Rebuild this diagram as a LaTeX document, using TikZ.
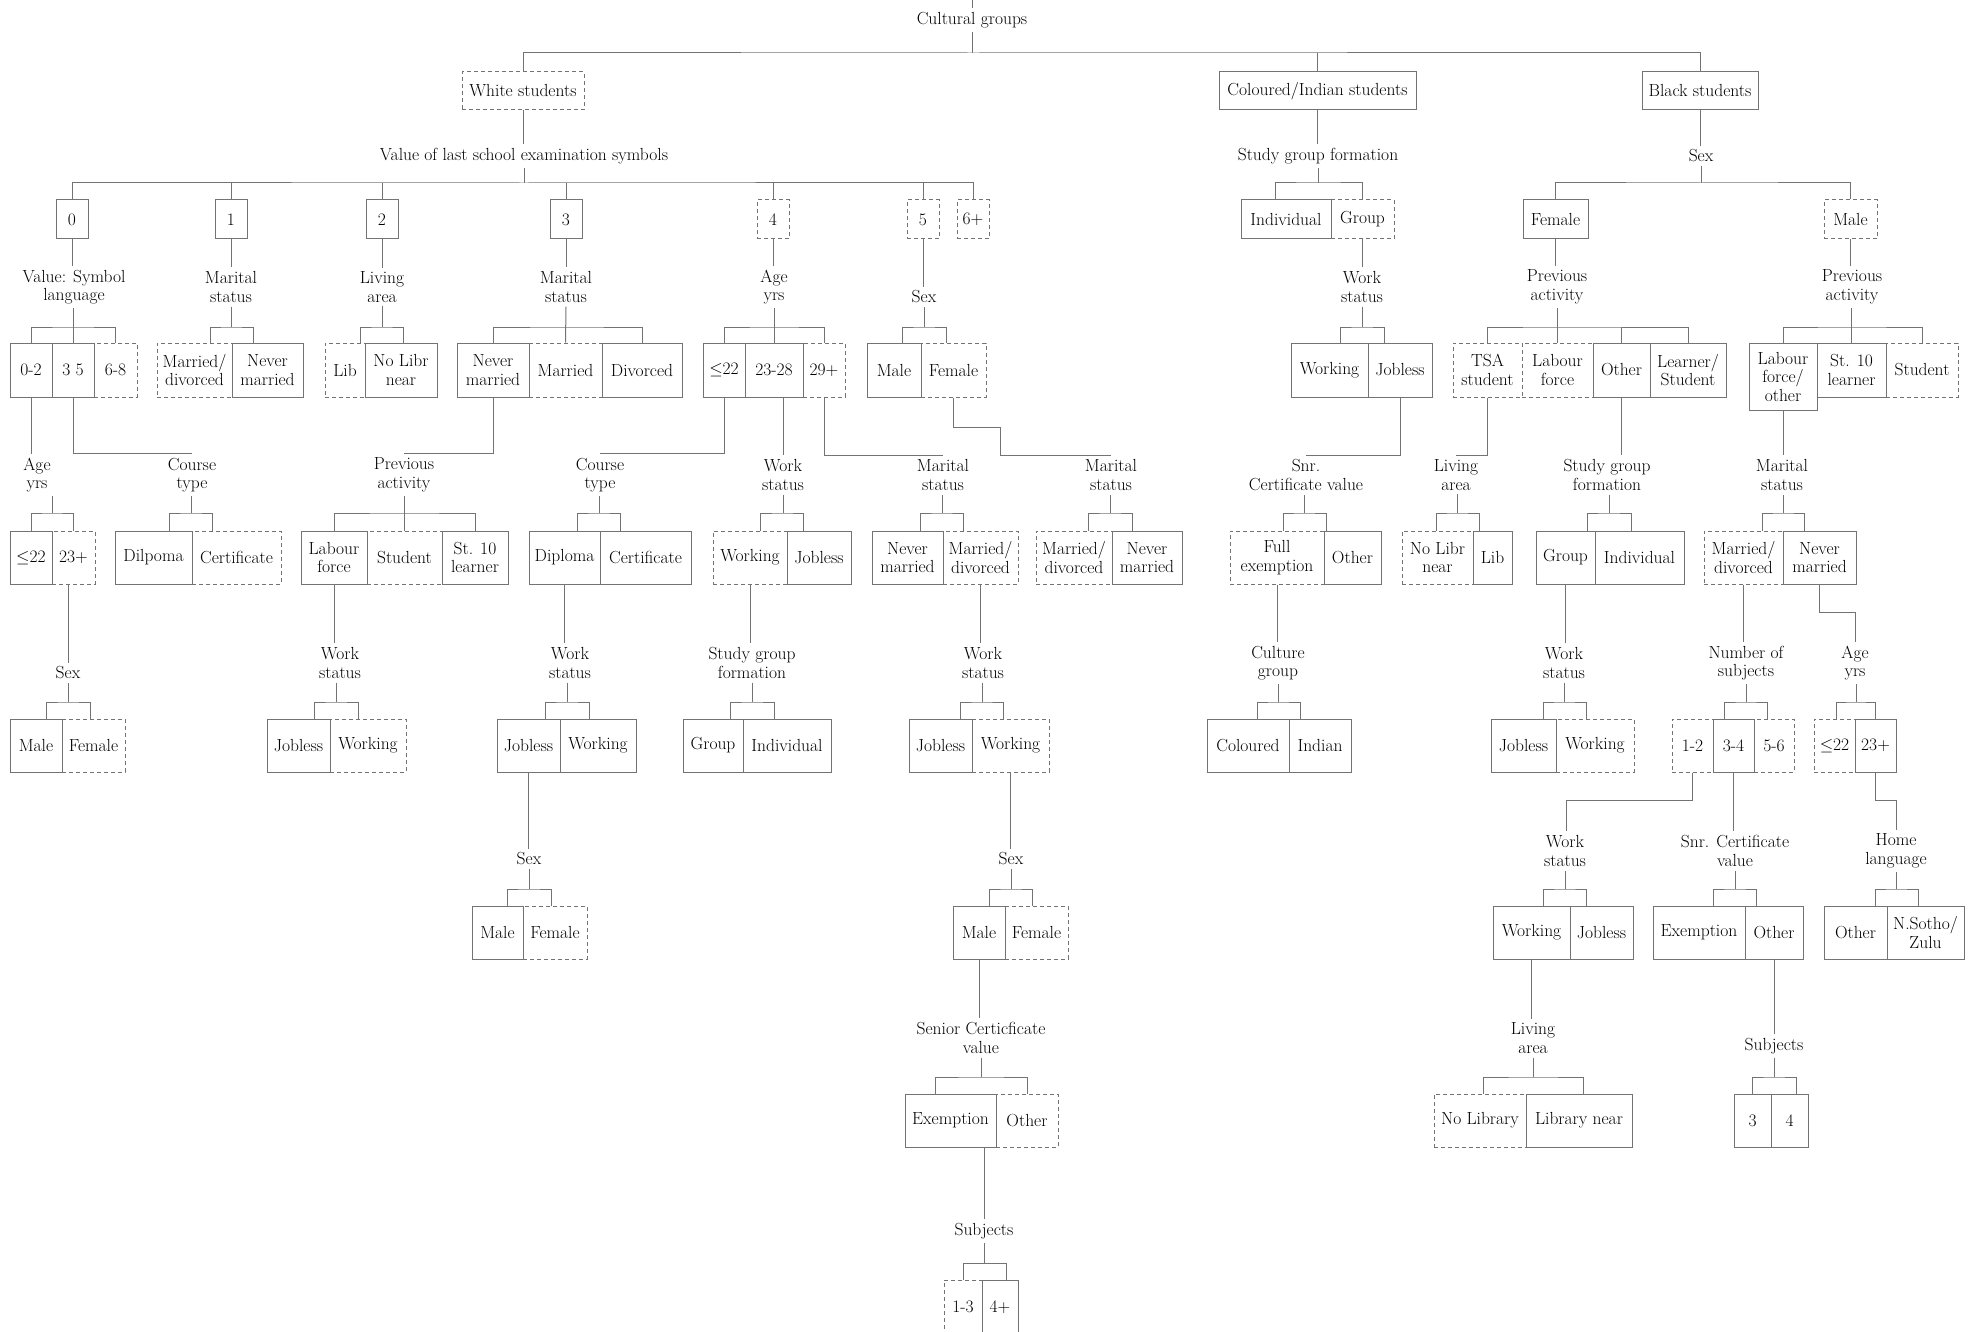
\documentclass[tikz,border=0pt]{standalone}
\usetikzlibrary{calc}

\begin{document}
\begin{tikzpicture}[x=1pt,y=-1pt,font=\fontsize{17.5}{18.5}\selectfont,
  conn/.style={draw=black!55,line width=1pt},
  cell/.style={draw=black!55,line width=1pt,inner sep=2pt,align=center,minimum height=53},
  dcell/.style={cell,dash pattern=on 4pt off 3pt},
  lbl/.style={inner sep=4pt,align=center}]
  \useasboundingbox (0,0) rectangle (1970,1332);
  % --- top: cultural groups ---
  \coordinate (top) at (972,0);
  \node[lbl] (cult) at (972,20) {Cultural groups};
  \node[dcell,minimum width=122,minimum height=38] (white) at (523,91) {White students};
  \node[cell,minimum width=197,minimum height=38] (colind) at (1317.5,91) {Coloured/Indian students};
  \node[cell,minimum width=116,minimum height=38] (black) at (1700,91) {Black students};
  \coordinate (jtop) at (972,53);
  \draw[conn] (top) -- (cult.north);
  \draw[conn] (cult.south) -- (jtop);
  \draw[conn] (white.north) |- (jtop) -| (black.north);
  \draw[conn] (colind.north) -- (colind.north |- jtop);
  \node[lbl] (symb) at (524,156) {Value of last school examination symbols};
  \node[lbl] (sgform) at (1318,156) {Study group formation};
  \node[lbl] (sexbl) at (1701,156) {Sex};
  \draw[conn] (white.south) -- (white.south |- symb.north);
  \draw[conn] (colind.south) -- (colind.south |- sgform.north);
  \draw[conn] (black.south) -- (black.south |- sexbl.north);

  % --- level 1: symbols, study group, sex ---
  \foreach \n/\x/\t in {s0/72/0,s1/231/1,s2/382/2,s3/566/3}
    \node[cell,minimum width=32,minimum height=39] (\n) at (\x,219.5) {\t};
  \foreach \n/\x/\t in {s4/773/4,s5/923/5,s6/973/6+}
    \node[dcell,minimum width=32,minimum height=39] (\n) at (\x,219.5) {\t};
  \coordinate (jsym) at (524,183);
  \draw[conn] (symb.south) -- (jsym);
  \draw[conn] (s0.north) |- (jsym) -| (s6.north);
  \foreach \n in {s1,s2,s3,s4,s5} \draw[conn] (\n.north) -- (\n.north |- jsym);
  \node[cell,minimum width=90,minimum height=39] (indiv) at (1286,219.5) {Individual};
  \node[dcell,minimum width=63,minimum height=39] (group) at (1362.5,219.5) {Group};
  \coordinate (jsg) at (1318,183);
  \draw[conn] (sgform.south) -- (jsg);
  \draw[conn] ([xshift=-11]indiv.north) |- (jsg) -| (group.north);
  \node[cell,minimum width=65,minimum height=39] (fem) at (1555.5,219.5) {Female};
  \node[dcell,minimum width=53,minimum height=39] (mal) at (1850.5,219.5) {Male};
  \coordinate (jsx) at (1701,183);
  \draw[conn] (sexbl.south) -- (jsx);
  \draw[conn] (fem.north) |- (jsx) -| (mal.north);

  % --- level 2 labels ---
  \node[lbl] (v0) at (74,287) {Value: Symbol\\language};
  \node[lbl] (v1) at (231,287) {Marital\\status};
  \node[lbl] (v2) at (382,287) {Living\\area};
  \node[lbl] (v3) at (566,287) {Marital\\status};
  \node[lbl] (v4) at (774,287) {Age\\yrs};
  \node[lbl] (v5) at (924,297) {Sex};
  \node[lbl] (vwork) at (1362,287) {Work\\status};
  \node[lbl] (vpaf) at (1557,287) {Previous\\activity};
  \node[lbl] (vpam) at (1852,287) {Previous\\activity};
  \foreach \a/\b in {s0/v0,s1/v1,s2/v2,s3/v3,s4/v4,s5/v5,group/vwork,fem/vpaf,mal/vpam}
    \draw[conn] (\a.south) -- (\a.south |- \b.north);

  % --- level 2 cells ---
  \node[cell,minimum width=42,minimum height=54] (g0a) at (31,370) {0-2};
  \node[cell,minimum width=42,minimum height=54] (g0b) at (73,370) {3~5};
  \node[dcell,minimum width=43,minimum height=54] (g0c) at (115.5,370) {6-8};
  \coordinate (j0) at (73,327);
  \draw[conn] (v0.south -| j0) -- (g0b.north);
  \draw[conn] (g0a.north) |- (j0) -| (g0c.north);
  \node[dcell,minimum width=75,minimum height=54] (g1a) at (194.5,370) {Married/\\divorced};
  \node[cell,minimum width=71,minimum height=54] (g1b) at (267.5,370) {Never\\married};
  \coordinate (j1) at (231,327);
  \draw[conn] (v1.south) -- (j1);
  \draw[conn] ([xshift=15.5]g1a.north) |- (j1) -| ([xshift=-14.5]g1b.north);
  \node[dcell,minimum width=40,minimum height=54] (g2a) at (345,370) {Lib};
  \node[cell,minimum width=72,minimum height=54] (g2b) at (401,370) {No Libr\\near};
  \coordinate (j2) at (382,327);
  \draw[conn] (v2.south) -- (j2);
  \draw[conn] ([xshift=15]g2a.north) |- (j2) -| ([xshift=2]g2b.north);
  \node[cell,minimum width=72,minimum height=54] (g3a) at (493,370) {Never\\married};
  \node[dcell,minimum width=73,minimum height=54] (g3b) at (565.5,370) {Married};
  \node[cell,minimum width=80,minimum height=54] (g3c) at (642,370) {Divorced};
  \coordinate (j3) at (566,327);
  \draw[conn] (v3.south) -- (g3b.north);
  \draw[conn] (g3a.north) |- (j3) -| (g3c.north);
  \node[cell,minimum width=42,minimum height=54] (g4a) at (724,370) {$\leq$22};
  \node[cell,minimum width=58,minimum height=54] (g4b) at (774,370) {23-28};
  \node[dcell,minimum width=42,minimum height=54] (g4c) at (824,370) {29+};
  \coordinate (j4) at (774,327);
  \draw[conn] (v4.south) -- (g4b.north);
  \draw[conn] (g4a.north) |- (j4) -| (g4c.north);
  \node[cell,minimum width=54,minimum height=54] (g5a) at (894,370) {Male};
  \node[dcell,minimum width=65,minimum height=54] (g5b) at (953.5,370) {Female};
  \coordinate (j5) at (924,327);
  \draw[conn] (v5.south) -- (j5);
  \draw[conn] ([xshift=8]g5a.north) |- (j5) -| ([xshift=-7.5]g5b.north);
  \node[cell,minimum width=77,minimum height=54] (g6a) at (1329.5,370) {Working};
  \node[cell,minimum width=64,minimum height=54] (g6b) at (1400,370) {Jobless};
  \coordinate (j6) at (1362,327);
  \draw[conn] (vwork.south) -- (j6);
  \draw[conn] ([xshift=10.5]g6a.north) |- (j6) -| ([xshift=-16]g6b.north);
  \node[dcell,minimum width=69,minimum height=54] (g7a) at (1487.5,370) {TSA\\student};
  \node[dcell,minimum width=71,minimum height=54] (g7b) at (1557.5,370) {Labour\\force};
  \node[cell,minimum width=57,minimum height=54] (g7c) at (1621.5,370) {Other};
  \node[cell,minimum width=76,minimum height=54] (g7d) at (1688,370) {Learner/\\Student};
  \coordinate (j7) at (1557.5,327);
  \draw[conn] (vpaf.south -| j7) -- (g7b.north);
  \draw[conn] (g7a.north) |- (j7) -| (g7d.north);
  \draw[conn] (g7c.north) -- (g7c.north |- j7);
  \node[cell,minimum width=68,minimum height=67] (g8a) at (1783,376.5) {Labour\\force/\\other};
  \node[cell,minimum width=69,minimum height=54] (g8b) at (1851.5,370) {St. 10\\learner};
  \node[dcell,minimum width=72,minimum height=54] (g8c) at (1922,370) {Student};
  \coordinate (j8) at (1851.5,327);
  \draw[conn] (vpam.south -| j8) -- (g8b.north);
  \draw[conn] (g8a.north) |- (j8) -| (g8c.north);

  % --- level 3 labels ---
  \node[lbl] (w0) at (37,475) {Age\\yrs};
  \node[lbl] (w1) at (192,475) {Course\\type};
  \node[lbl] (w2) at (404,475) {Previous\\activity};
  \node[lbl] (w3) at (600,475) {Course\\type};
  \node[lbl] (w4) at (783,475) {Work\\status};
  \node[lbl] (w5) at (943,475) {Marital\\status};
  \node[lbl] (w6) at (1111,475) {Marital\\status};
  \node[lbl] (w7) at (1306,475) {Snr.\\Certificate value};
  \node[lbl] (w8) at (1456,475) {Living\\area};
  \node[lbl] (w9) at (1607,475) {Study group\\formation};
  \node[lbl] (w10) at (1782,475) {Marital\\status};
  \draw[conn] (g0a.south) -- (g0a.south |- w0.north);
  \draw[conn] (g0b.south) |- (w1.north);
  \draw[conn] (g3a.south) |- (w2.north);
  \draw[conn] (g4a.south) |- (w3.north);
  \draw[conn] (w4.north |- g4b.south) -- (w4.north);
  \draw[conn] (g4c.south) |- (w5.north);
  \coordinate (k1) at (1000,427);
  \draw[conn] (g5b.south) |- (k1) |- (w6.north);
  \draw[conn] (g6b.south) |- (w7.north);
  \draw[conn] (g7a.south) |- (w8.north);
  \draw[conn] (g7c.south) -- (g7c.south |- w9.north);
  \draw[conn] (g8a.south) -- (g8a.south |- w10.north);

  % --- level 3 cells ---
  \node[cell,minimum width=42] (h0a) at (31,557.5) {$\leq$22};
  \node[dcell,minimum width=43] (h0b) at (73.5,557.5) {23+};
  \coordinate (jh0) at (52,513);
  \draw[conn] (w0.south -| jh0) -- (jh0);
  \draw[conn] (h0a.north) |- (jh0) -| (h0b.north);
  \node[cell,minimum width=77] (h1a) at (153.5,557.5) {Dilpoma};
  \node[dcell,minimum width=89] (h1b) at (236.5,557.5) {Certificate};
  \coordinate (jh1) at (191,513);
  \draw[conn] (w1.south -| jh1) -- (jh1);
  \draw[conn] ([xshift=15.5]h1a.north) |- (jh1) -| ([xshift=-24.5]h1b.north);
  \node[cell,minimum width=66] (h2a) at (334,557.5) {Labour\\force};
  \node[dcell,minimum width=75] (h2b) at (404.5,557.5) {Student};
  \node[cell,minimum width=66] (h2c) at (475,557.5) {St. 10\\learner};
  \coordinate (jh2) at (404,513);
  \draw[conn] (w2.south) -- (jh2 |- h2b.north);
  \draw[conn] (h2a.north) |- (jh2) -| (h2c.north);
  \node[cell,minimum width=71] (h3a) at (564.5,557.5) {Diploma};
  \node[cell,minimum width=91] (h3b) at (645.5,557.5) {Certificate};
  \coordinate (jh3) at (599,513);
  \draw[conn] (w3.south -| jh3) -- (jh3);
  \draw[conn] ([xshift=12.5]h3a.north) |- (jh3) -| ([xshift=-25.5]h3b.north);
  \node[dcell,minimum width=74] (h4a) at (750,557.5) {Working};
  \node[cell,minimum width=64] (h4b) at (819,557.5) {Jobless};
  \coordinate (jh4) at (783,513);
  \draw[conn] (w4.south) -- (jh4);
  \draw[conn] ([xshift=10]h4a.north) |- (jh4) -| ([xshift=-16]h4b.north);
  \node[cell,minimum width=71] (h5a) at (907.5,557.5) {Never\\married};
  \node[dcell,minimum width=75] (h5b) at (980.5,557.5) {Married/\\divorced};
  \coordinate (jh5) at (942,513);
  \draw[conn] (w5.south -| jh5) -- (jh5);
  \draw[conn] ([xshift=12.5]h5a.north) |- (jh5) -| ([xshift=-17.5]h5b.north);
  \node[dcell,minimum width=76] (h6a) at (1074,557.5) {Married/\\divorced};
  \node[cell,minimum width=70] (h6b) at (1147,557.5) {Never\\married};
  \coordinate (jh6) at (1110,513);
  \draw[conn] (w6.south -| jh6) -- (jh6);
  \draw[conn] ([xshift=14]h6a.north) |- (jh6) -| ([xshift=-15]h6b.north);
  \node[dcell,minimum width=94] (h7a) at (1277,557.5) {Full\\exemption};
  \node[cell,minimum width=57] (h7b) at (1352.5,557.5) {Other};
  \coordinate (jh7) at (1304,513);
  \draw[conn] (w7.south -| jh7) -- (jh7);
  \draw[conn] ([xshift=6]h7a.north) |- (jh7) -| ([xshift=-26.5]h7b.north);
  \node[dcell,minimum width=71] (h8a) at (1437.5,557.5) {No Libr\\near};
  \node[cell,minimum width=39] (h8b) at (1492.5,557.5) {Lib};
  \coordinate (jh8) at (1457,513);
  \draw[conn] (w8.south -| jh8) -- (jh8);
  \draw[conn] ([xshift=-1.5]h8a.north) |- (jh8) -| ([xshift=-13.5]h8b.north);
  \node[cell,minimum width=59] (h9a) at (1565.5,557.5) {Group};
  \node[cell,minimum width=89] (h9b) at (1639.5,557.5) {Individual};
  \coordinate (jh9) at (1609,513);
  \draw[conn] (w9.south -| jh9) -- (jh9);
  \draw[conn] ([xshift=21.5]h9a.north) |- (jh9) -| ([xshift=-8.5]h9b.north);
  \node[dcell,minimum width=79] (h10a) at (1743.5,557.5) {Married/\\divorced};
  \node[cell,minimum width=73] (h10b) at (1819.5,557.5) {Never\\married};
  \coordinate (jh10) at (1783,513);
  \draw[conn] (w10.south -| jh10) -- (jh10);
  \draw[conn] ([xshift=18.5]h10a.north) |- (jh10) -| ([xshift=-15.5]h10b.north);

  % --- level 4 labels ---
  \node[lbl] (x0) at (68,673) {Sex};
  \node[lbl] (x1) at (340,663) {Work\\status};
  \node[lbl] (x2) at (570,663) {Work\\status};
  \node[lbl] (x3) at (752,663) {Study group\\formation};
  \node[lbl] (x4) at (983,663) {Work\\status};
  \node[lbl] (x5) at (1278,663) {Culture\\group};
  \node[lbl] (x6) at (1564,663) {Work\\status};
  \node[lbl] (x7) at (1746,663) {Number of\\subjects};
  \node[lbl] (x8) at (1855,663) {Age\\yrs};
  \draw[conn] (x0.north |- h0b.south) -- (x0.north);
  \draw[conn] (h2a.south) -- (h2a.south |- x1.north);
  \draw[conn] (h3a.south) -- (h3a.south |- x2.north);
  \draw[conn] (h4a.south) -- (h4a.south |- x3.north);
  \draw[conn] (h5b.south) -- (h5b.south |- x4.north);
  \draw[conn] (h7a.south) -- (h7a.south |- x5.north);
  \draw[conn] (h9a.south) -- (h9a.south |- x6.north);
  \draw[conn] (h10a.south) -- (h10a.south |- x7.north);
  \coordinate (k2) at (1855,612);
  \draw[conn] (h10b.south) |- (k2) -- (k2 |- x8.north);

  % --- level 4 cells ---
  \node[cell,minimum width=52] (i0a) at (36,745.5) {Male};
  \node[dcell,minimum width=63] (i0b) at (93.5,745.5) {Female};
  \coordinate (ji0) at (68,702);
  \draw[conn] (x0.south) -- (ji0);
  \draw[conn] ([xshift=10]i0a.north) |- (ji0) -| ([xshift=-3.5]i0b.north);
  \node[cell,minimum width=63] (i1a) at (298.5,745.5) {Jobless};
  \node[dcell,minimum width=76] (i1b) at (368,745.5) {Working};
  \coordinate (ji1) at (336,702);
  \draw[conn] (x1.south -| ji1) -- (ji1);
  \draw[conn] ([xshift=15.5]i1a.north) |- (ji1) -| ([xshift=-10]i1b.north);
  \node[cell,minimum width=63] (i2a) at (528.5,745.5) {Jobless};
  \node[cell,minimum width=76] (i2b) at (598,745.5) {Working};
  \coordinate (ji2) at (567,702);
  \draw[conn] (x2.south -| ji2) -- (ji2);
  \draw[conn] ([xshift=16.5]i2a.north) |- (ji2) -| ([xshift=-9]i2b.north);
  \node[cell,minimum width=60] (i3a) at (713,745.5) {Group};
  \node[cell,minimum width=88] (i3b) at (787,745.5) {Individual};
  \coordinate (ji3) at (752,702);
  \draw[conn] (x3.south) -- (ji3);
  \draw[conn] ([xshift=17]i3a.north) |- (ji3) -| ([xshift=-13]i3b.north);
  \node[cell,minimum width=63] (i4a) at (940.5,745.5) {Jobless};
  \node[dcell,minimum width=77] (i4b) at (1010.5,745.5) {Working};
  \coordinate (ji4) at (982,702);
  \draw[conn] (x4.south -| ji4) -- (ji4);
  \draw[conn] ([xshift=19.5]i4a.north) |- (ji4) -| ([xshift=-7.5]i4b.north);
  \node[cell,minimum width=82] (i5a) at (1248,745.5) {Coloured};
  \node[cell,minimum width=62] (i5b) at (1320,745.5) {Indian};
  \coordinate (ji5) at (1278,702);
  \draw[conn] (x5.south) -- (ji5);
  \draw[conn] ([xshift=9]i5a.north) |- (ji5) -| ([xshift=-20]i5b.north);
  \node[cell,minimum width=65] (i6a) at (1523.5,745.5) {Jobless};
  \node[dcell,minimum width=78] (i6b) at (1595,745.5) {Working};
  \coordinate (ji6) at (1564,702);
  \draw[conn] (x6.south) -- (ji6);
  \draw[conn] ([xshift=19.5]i6a.north) |- (ji6) -| ([xshift=-9]i6b.north);
  \node[dcell,minimum width=41] (i7a) at (1692.5,745.5) {1-2};
  \node[cell,minimum width=41] (i7b) at (1733.5,745.5) {3-4};
  \node[dcell,minimum width=40] (i7c) at (1774,745.5) {5-6};
  \coordinate (ji7) at (1746,702);
  \draw[conn] (x7.south) -- (ji7);
  \draw[conn] ([xshift=-9.5]i7b.north) |- (ji7) -| ([xshift=-7]i7c.north);
  \node[dcell,minimum width=41] (i8a) at (1834.5,745.5) {$\leq$22};
  \node[cell,minimum width=41] (i8b) at (1875.5,745.5) {23+};
  \coordinate (ji8) at (1856,702);
  \draw[conn] (x8.south -| ji8) -- (ji8);
  \draw[conn] ([xshift=1.5]i8a.north) |- (ji8) -| (i8b.north);

  % --- level 5 labels ---
  \node[lbl] (y0) at (529,859) {Sex};
  \node[lbl] (y1) at (1011,859) {Sex};
  \node[lbl] (y2) at (1565,851) {Work\\status};
  \node[lbl] (y3) at (1735,851) {Snr. Certificate\\value};
  \node[lbl] (y4) at (1896,851) {Home\\language};
  \draw[conn] (i2a.south) -- (i2a.south |- y0.north);
  \draw[conn] (i4b.south) -- (i4b.south |- y1.north);
  \coordinate (k3) at (1566,800);
  \draw[conn] (i7a.south) |- (k3) -- (k3 |- y2.north);
  \draw[conn] (i7b.south) -- (i7b.south |- y3.north);
  \coordinate (k4) at (1896,800);
  \draw[conn] (i8b.south) |- (k4) -- (k4 |- y4.north);

  % --- level 5 cells ---
  \node[cell,minimum width=51] (l0a) at (497.5,932.5) {Male};
  \node[dcell,minimum width=64] (l0b) at (555,932.5) {Female};
  \coordinate (jl0) at (529,889);
  \draw[conn] (y0.south) -- (jl0);
  \draw[conn] ([xshift=9.5]l0a.north) |- (jl0) -| ([xshift=-4]l0b.north);
  \node[cell,minimum width=52] (l1a) at (979,932.5) {Male};
  \node[dcell,minimum width=63] (l1b) at (1036.5,932.5) {Female};
  \coordinate (jl1) at (1011,889);
  \draw[conn] (y1.south) -- (jl1);
  \draw[conn] ([xshift=10]l1a.north) |- (jl1) -| ([xshift=-4.5]l1b.north);
  \node[cell,minimum width=77] (l2a) at (1531.5,932.5) {Working};
  \node[cell,minimum width=63] (l2b) at (1601.5,932.5) {Jobless};
  \coordinate (jl2) at (1565,889);
  \draw[conn] (y2.south) -- (jl2);
  \draw[conn] ([xshift=11.5]l2a.north) |- (jl2) -| ([xshift=-15.5]l2b.north);
  \node[cell,minimum width=92] (l3a) at (1699,932.5) {Exemption};
  \node[cell,minimum width=58] (l3b) at (1774,932.5) {Other};
  \coordinate (jl3) at (1735,889);
  \draw[conn] (y3.south) -- (jl3);
  \draw[conn] ([xshift=14]l3a.north) |- (jl3) -| ([xshift=-18]l3b.north);
  \node[cell,minimum width=63] (l4a) at (1855.5,932.5) {Other};
  \node[cell,minimum width=77] (l4b) at (1925.5,932.5) {N.Sotho/\\Zulu};
  \coordinate (jl4) at (1896,889);
  \draw[conn] (y4.south) -- (jl4);
  \draw[conn] ([xshift=19.5]l4a.north) |- (jl4) -| ([xshift=-7.5]l4b.north);

  % --- level 6 ---
  \node[lbl] (z0) at (981,1038) {Senior Certicficate\\value};
  \node[lbl] (z1) at (1533,1038) {Living\\area};
  \node[lbl] (z2) at (1774,1046) {Subjects};
  \draw[conn] (l1a.south) -- (l1a.south |- z0.north);
  \draw[conn] (l2a.south) -- (l2a.south |- z1.north);
  \draw[conn] (l3b.south) -- (l3b.south |- z2.north);
  \node[cell,minimum width=91] (m0a) at (950.5,1120.5) {Exemption};
  \node[dcell,minimum width=62] (m0b) at (1027,1120.5) {Other};
  \coordinate (jm0) at (981,1077);
  \draw[conn] (z0.south) -- (jm0);
  \draw[conn] ([xshift=-15.5]m0a.north) |- (jm0) -| (m0b.north);
  \node[dcell,minimum width=92] (m1a) at (1480,1120.5) {No Library};
  \node[cell,minimum width=106] (m1b) at (1579,1120.5) {Library near};
  \coordinate (jm1) at (1533,1077);
  \draw[conn] (z1.south) -- (jm1);
  \draw[conn] ([xshift=3]m1a.north) |- (jm1) -| ([xshift=4]m1b.north);
  \node[cell,minimum width=37] (m2a) at (1752.5,1120.5) {3};
  \node[cell,minimum width=37] (m2b) at (1789.5,1120.5) {4};
  \coordinate (jm2) at (1774,1077);
  \draw[conn] (z2.south) -- (jm2);
  \draw[conn] (m2a.north) |- (jm2) -| ([xshift=6.5]m2b.north);

  % --- level 7 ---
  \node[lbl] (o0) at (984,1231) {Subjects};
  \draw[conn] (o0.north |- m0a.south) -- (o0.north);
  \node[dcell,minimum width=38,minimum height=54] (p0a) at (963,1307) {1-3};
  \node[cell,minimum width=36,minimum height=54] (p0b) at (1000,1307) {4+};
  \coordinate (jp0) at (984,1263);
  \draw[conn] (o0.south) -- (jp0);
  \draw[conn] (p0a.north) |- (jp0) -| ([xshift=6]p0b.north);
\end{tikzpicture}
\end{document}
